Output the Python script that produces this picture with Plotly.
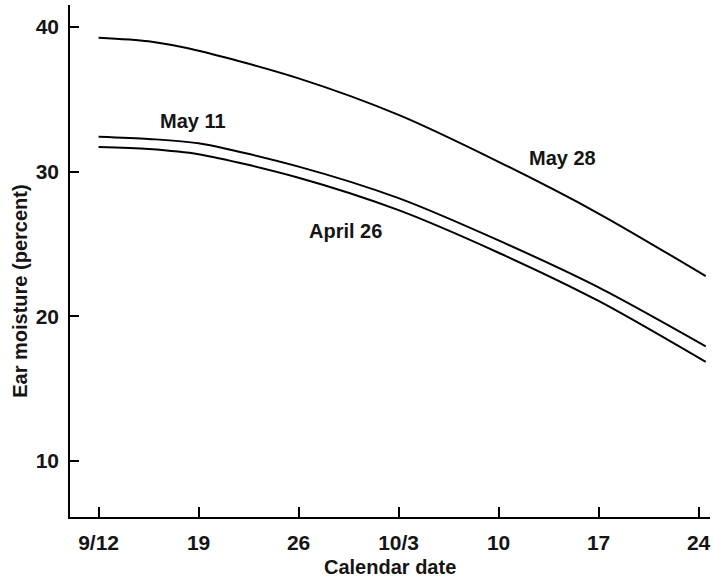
import plotly.graph_objects as go

# Days after 9/12 at which the curves are read, with the weekly tick labels
days = [0, 3.5, 7, 14, 21, 28, 35, 42.5]
tick_days = [0, 7, 14, 21, 28, 35, 42]
tick_labels = ["9/12", "19", "26", "10/3", "10", "17", "24"]

# Ear moisture (percent) for each planting date
may28 = [39.24, 38.99, 38.34, 36.43, 33.91, 30.67, 27.10, 22.78]
may11 = [32.40, 32.25, 31.95, 30.34, 28.16, 25.24, 22.00, 17.93]
april26 = [31.70, 31.56, 31.20, 29.57, 27.33, 24.39, 21.06, 16.85]

series = [("May 28", may28), ("May 11", may11), ("April 26", april26)]

# Curve label anchors (day, percent)
label_pos = {"May 11": (6.6, 33.5), "April 26": (17.3, 25.86), "May 28": (32.45, 30.9)}

FONT = "Liberation Sans, Arial, sans-serif"
TXT = dict(family=FONT, size=20, color="#151515")


def b(s):
    return "<b>" + s + "</b>"


fig = go.Figure()
for name, vals in series:
    fig.add_trace(go.Scatter(
        x=days, y=vals, mode="lines", name=name,
        line=dict(color="black", width=2, shape="spline", smoothing=0.8),
        showlegend=False, hoverinfo="skip",
    ))

annotations = []
for name, (x, y) in label_pos.items():
    annotations.append(dict(x=x, y=y, xref="x", yref="y", text=b(name), showarrow=False,
                            font=TXT, xanchor="center", yanchor="middle"))

annotations.append(dict(x=0.5, y=-0.098, xref="paper", yref="paper", text=b("Calendar date"),
                        showarrow=False, font=TXT, xanchor="center", yanchor="middle"))
annotations.append(dict(x=-0.078, y=0.44, xref="paper", yref="paper", text=b("Ear moisture (percent)"),
                        showarrow=False, textangle=-90, font=TXT,
                        xanchor="center", yanchor="middle"))

fig.update_layout(
    width=713, height=578,
    margin=dict(l=70, r=3, t=5, b=61),
    paper_bgcolor="white", plot_bgcolor="white",
    font=TXT,
    annotations=annotations,
    xaxis=dict(
        range=[-2.0, 42.8], tickmode="array", tickvals=tick_days,
        ticktext=[b(t) for t in tick_labels],
        showgrid=False, zeroline=False, showline=True, linecolor="black", linewidth=1.5,
        ticks="inside", ticklen=10, tickwidth=1.5, tickcolor="black",
        ticklabelstandoff=6, tickfont=dict(family=FONT, size=21, color="#151515"),
    ),
    yaxis=dict(
        range=[6.14, 41.5], tickmode="array", tickvals=[10, 20, 30, 40],
        ticktext=[b(str(v)) for v in [10, 20, 30, 40]],
        showgrid=False, zeroline=False, showline=True, linecolor="black", linewidth=1.5,
        ticks="inside", ticklen=9, tickwidth=1.5, tickcolor="black",
        ticklabelstandoff=5, tickfont=dict(family=FONT, size=21, color="#151515"),
    ),
)

fig.write_html("out.html")
